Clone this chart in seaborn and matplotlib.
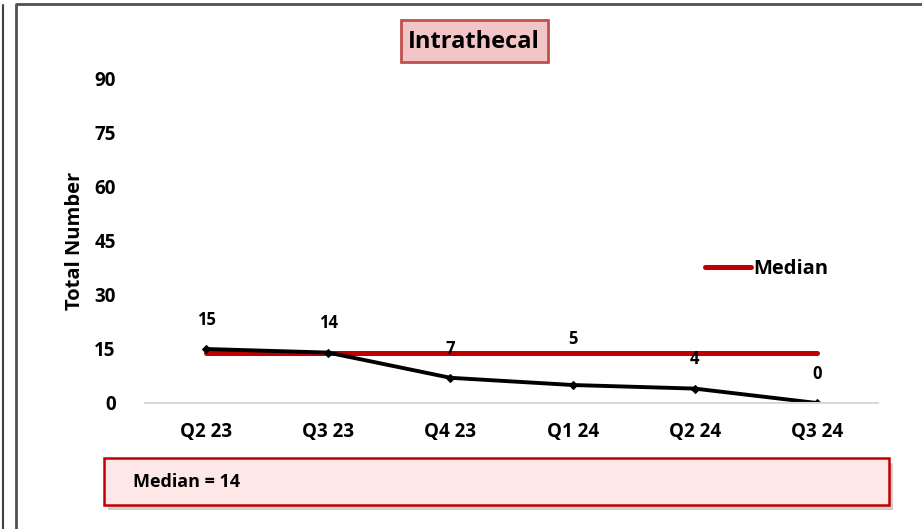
import matplotlib
matplotlib.use("Agg")
import matplotlib.pyplot as plt
import seaborn as sns
import pandas as pd
from matplotlib.patches import FancyBboxPatch
from matplotlib.lines import Line2D

# datos del grafico
quarters = ["Q2 23", "Q3 23", "Q4 23", "Q1 24", "Q2 24", "Q3 24"]
totals = [15, 14, 7, 5, 4, 0]
median_value = 14
y_ticks = [0, 15, 30, 45, 60, 75, 90]
title = "Intrathecal"

df = pd.DataFrame({"quarter": quarters, "total": totals})
df["pos"] = range(len(df))
df["median"] = median_value

sns.set_theme(style="white")
plt.rcParams["font.family"] = ["Open Sans", "DejaVu Sans"]
plt.rcParams["text.color"] = "black"
plt.rcParams["xtick.color"] = "black"
plt.rcParams["ytick.color"] = "black"
plt.rcParams["axes.labelcolor"] = "black"

W, H = 922, 529
fig = plt.figure(figsize=(W / 100, H / 100), dpi=100)
ax = fig.add_axes([145 / W, 1 - 403 / H, (878 - 145) / W, (403 - 79) / H])

sns.lineplot(data=df, x="pos", y="median", ax=ax, color="#C00000", linewidth=3.6,
             solid_capstyle="round", label="Median")
sns.lineplot(data=df, x="pos", y="total", ax=ax, color="black", linewidth=2.8,
             marker="D", markersize=4.5, markeredgecolor="black", legend=False)

# etiquetas de datos
extra = {3: 12}
for i, v in enumerate(totals):
    ax.annotate(str(v), (i, v), xytext=(0, 21 + extra.get(i, 0)), textcoords="offset points",
                ha="center", va="center", fontsize=12, fontweight="bold")

ax.set_xlim(-0.5, len(quarters) - 0.5)
ax.set_ylim(0, 90)
ax.set_xticks(range(len(quarters)))
ax.set_xticklabels(quarters, fontsize=13.5, fontweight="bold")
ax.set_yticks(y_ticks)
ax.set_yticklabels([str(t) for t in y_ticks], fontsize=13.5, fontweight="bold")
ax.tick_params(axis="x", length=0, pad=14)
ax.tick_params(axis="y", length=0, pad=21)
ax.set_xlabel("")
ax.set_ylabel("Total Number", fontsize=14.5, fontweight="bold", labelpad=7)
for s in ["top", "right", "left"]:
    ax.spines[s].set_visible(False)
ax.spines["bottom"].set_color("#D9D9D9")
ax.spines["bottom"].set_linewidth(1.5)

leg = ax.legend(loc="center left", bbox_to_anchor=((697 - 145) / (878 - 145), 1 - (269 - 79) / (403 - 79)),
                frameon=False, handlelength=2.3, handletextpad=0.1, borderaxespad=0,
                prop={"weight": "bold", "size": 14.5})

# caja del titulo
fig.patches.append(FancyBboxPatch((401 / W, 1 - 62 / H), 147 / W, 42 / H, boxstyle="square,pad=0",
                                  transform=fig.transFigure, facecolor="#F2C6C6",
                                  edgecolor="#C0504D", linewidth=2))
fig.text(474 / W, 1 - 42 / H, title, ha="center", va="center", fontsize=17, fontweight="bold")

# caja de la mediana
fig.patches.append(FancyBboxPatch((108 / W, 1 - 510 / H), 785 / W, 47 / H, boxstyle="square,pad=0",
                                  transform=fig.transFigure, facecolor="#B0B0B0",
                                  edgecolor="none", alpha=0.6))
fig.patches.append(FancyBboxPatch((104 / W, 1 - 505 / H), 785 / W, 47 / H, boxstyle="square,pad=0",
                                  transform=fig.transFigure, facecolor="#FDE7E7",
                                  edgecolor="#C00000", linewidth=1.8))
fig.text(133 / W, 1 - 482 / H, f"Median = {median_value}", ha="left", va="center",
         fontsize=13, fontweight="bold")

# bordes
fig.add_artist(Line2D([3 / W, 3 / W], [0, 1 - 5 / H], transform=fig.transFigure, color="#404040", lw=1.5))
fig.add_artist(Line2D([16 / W, 16 / W, 1], [0, 1 - 4 / H, 1 - 4 / H], transform=fig.transFigure,
                      color="#505050", lw=2))

fig.savefig("out.png", dpi=100)
